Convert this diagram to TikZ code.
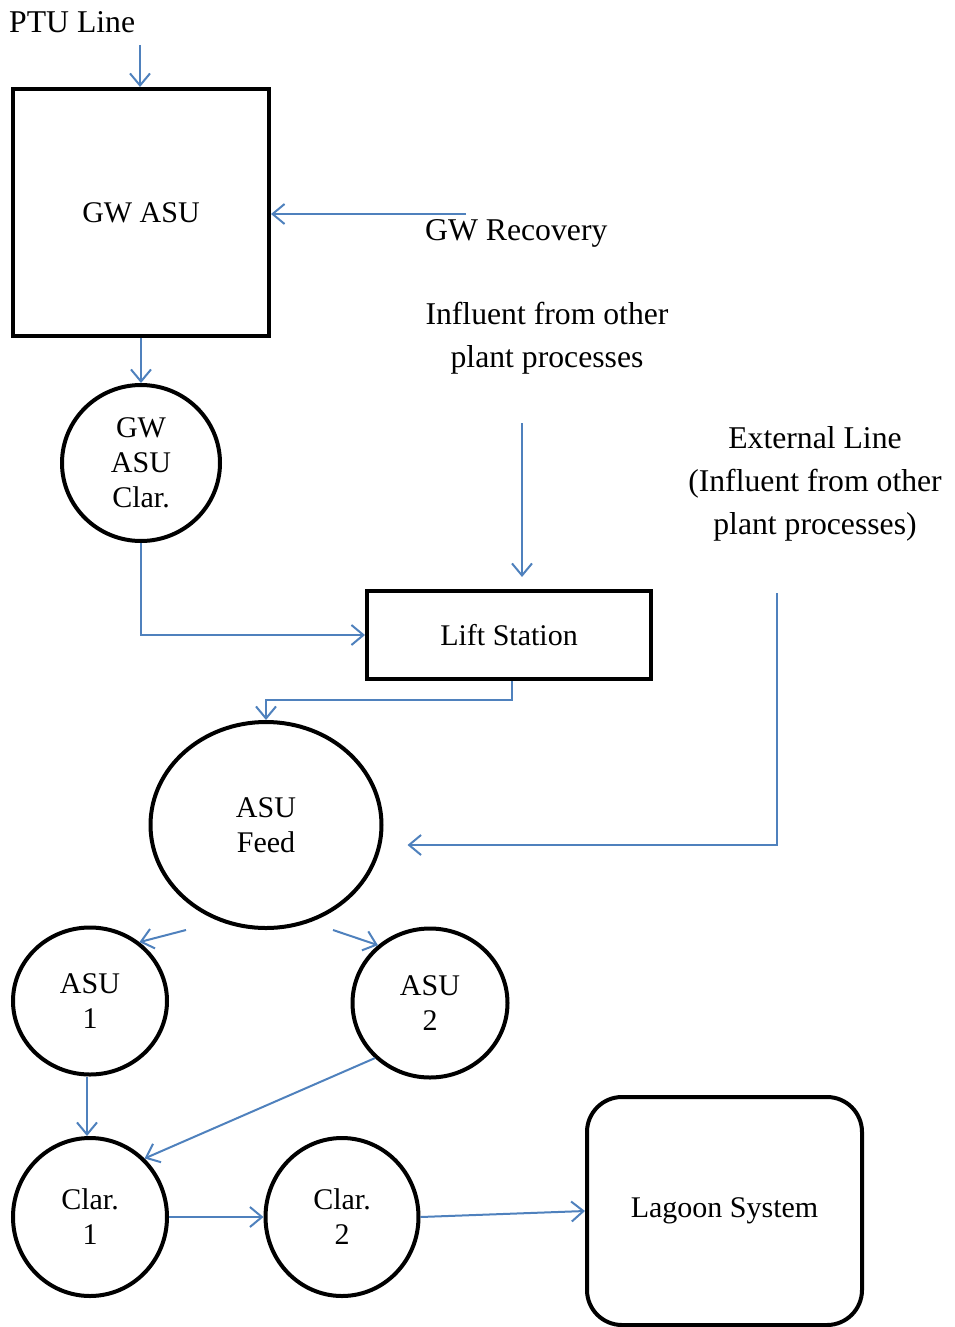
\documentclass[tikz,border=0pt]{standalone}
\usepackage{fontspec}
\setmainfont{Liberation Serif}
\usetikzlibrary{arrows.meta,shapes.geometric}
\definecolor{flowblue}{RGB}{79,129,189}
\begin{document}
\begin{tikzpicture}[x=1pt,y=-1pt,
    unit/.style={draw,line width=4pt,font=\fontsize{30}{35}\selectfont,align=center,inner sep=0pt},
    tank/.style={unit,ellipse},
    flow/.style={draw=flowblue,line width=2pt,-{Straight Barb[length=12pt,width=20pt]}},
    lbl/.style={font=\fontsize{31.7}{43}\selectfont,inner sep=0pt,align=center}]
    \useasboundingbox (0,0) rectangle (954,1327);
    %units
    \node[unit,minimum width=256,minimum height=247] (gwasu) at (141,212.5) {GW ASU};
    \node[tank,minimum width=158,minimum height=156] (gwclar) at (141,463) {GW\\ASU\\Clar.};
    \node[unit,minimum width=284,minimum height=88] (lift) at (509,635) {Lift Station};
    \node[tank,minimum width=231,minimum height=206] (feed) at (266,825) {ASU\\Feed};
    \node[tank,minimum width=154,minimum height=147] (asu1) at (90,1001) {ASU\\1};
    \node[tank,minimum width=155,minimum height=149] (asu2) at (430,1003) {ASU\\2};
    \node[tank,minimum width=154,minimum height=158] (clar1) at (90,1217) {Clar.\\1};
    \node[tank,minimum width=153,minimum height=158] (clar2) at (342,1217) {Clar.\\2};
    \node[unit,rounded corners=35pt,minimum width=275,minimum height=228] (lagoon) at (724.5,1211) {Lagoon System};
    %labels
    \node[lbl,anchor=west] (ptu) at (9,22) {PTU Line};
    \node[lbl,anchor=west] (gwrec) at (425,233) {GW Recovery};
    \node[lbl] (infl) at (547,338) {Influent from other\\plant processes};
    \node[lbl] (ext) at (815,484) {External Line\\(Influent from other\\plant processes)};
    %free ends
    \coordinate (ptuin) at (140,45);
    \coordinate (gwrin) at (466,214);
    \coordinate (inflin) at (522,423);
    \coordinate (extin) at (777,593);
    %flows
    \draw[flow] (ptuin) -- (gwasu.north -| ptuin);
    \draw[flow] (gwrin) -- (gwasu.east |- gwrin);
    \draw[flow] (gwasu.south) -- (gwclar.north);
    \draw[flow] (gwclar.south) |- (lift.west);
    \draw[flow,shorten >=12pt] (inflin) -- (inflin |- lift.north);
    \draw[flow] ([xshift=3pt]lift.south) -- ++(0,19) -| (feed.north);
    \draw[flow] (extin) |- ([xshift=24pt,yshift=-20pt]feed.east);
    \draw[flow] ([xshift=-80pt]feed.south) -- (asu1.50);
    \draw[flow] ([xshift=67pt]feed.south) -- (asu2.132);
    \draw[flow] ([xshift=-3pt]asu1.south) -- ([xshift=-3pt]clar1.north);
    \draw[flow] (asu2.225) -- (clar1.47);
    \draw[flow] (clar1.east) -- (clar2.west);
    \draw[flow] (clar2.east) -- (lagoon.west);
\end{tikzpicture}
\end{document}
